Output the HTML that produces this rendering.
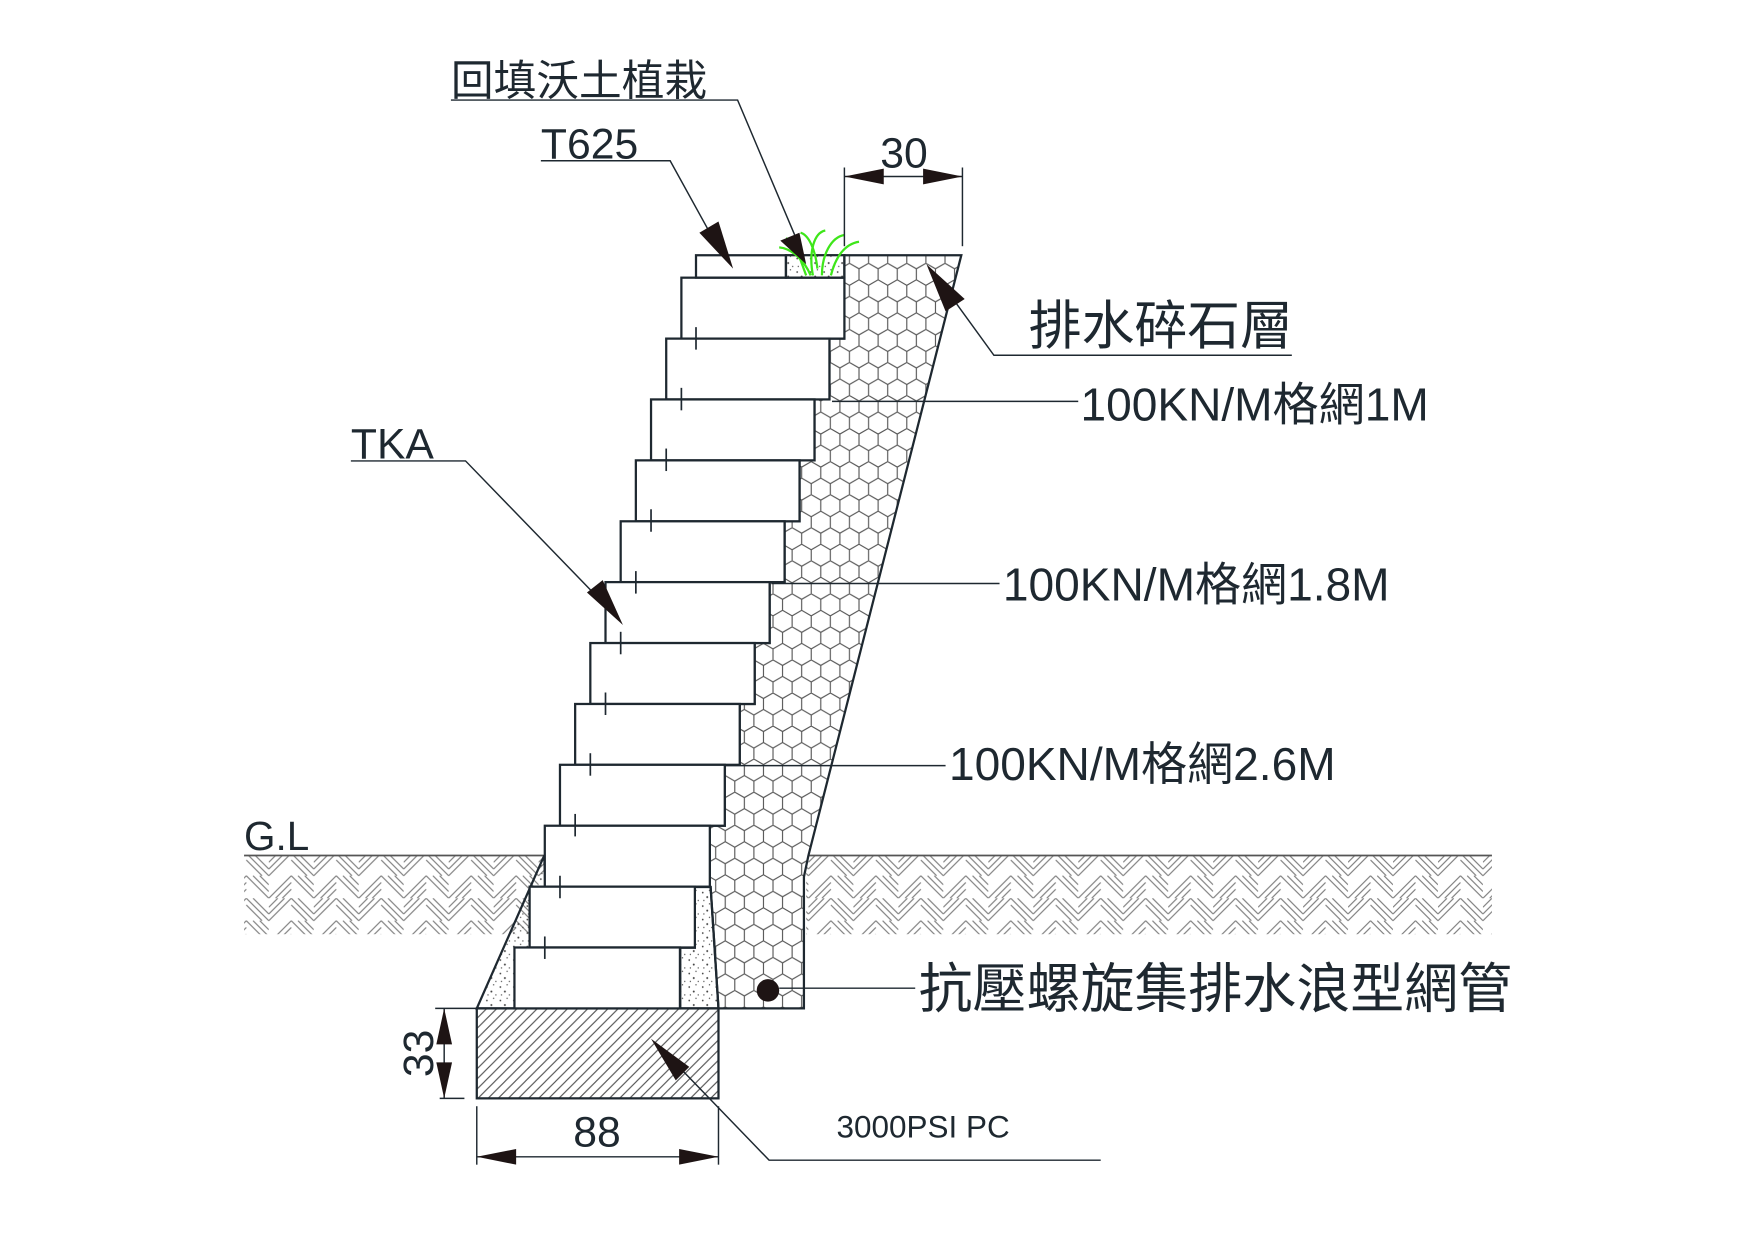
<!DOCTYPE html>
<html><head><meta charset="utf-8"><style>
html,body{margin:0;padding:0;background:#fff}
svg{display:block}
text{font-family:"Liberation Sans","Noto Sans CJK TC",sans-serif;fill:#1e2830}
</style></head><body>
<svg width="1754" height="1240" viewBox="0 0 1560 1103" xmlns="http://www.w3.org/2000/svg">
<defs>
<pattern id="hex" width="17" height="29.4" patternUnits="userSpaceOnUse">
<path d="M0,4.9 L8.5,0 L17,4.9 M8.5,19.6 L0,14.7 V4.9 M17,4.9 V14.7 L8.5,19.6 V29.4" fill="none" stroke="#555" stroke-width="1"/>
</pattern>
<pattern id="ground" width="40" height="40" patternUnits="userSpaceOnUse">
<g stroke="#777" stroke-width="1">
<path d="M0,8 L8,0 M0,14 L14,0 M0,20 L20,0"/>
<path d="M20,20 L40,40 M26,20 L40,34 M32,20 L40,28"/>
<path d="M20,0 L40,20 M26,0 L40,14 M20,6 L34,20"/>
<path d="M0,40 L20,20 M6,40 L20,26 M12,40 L20,32"/>
</g>
</pattern>
<pattern id="diag" width="9" height="9" patternUnits="userSpaceOnUse">
<path d="M0,9 L9,0 M-2,2 L2,-2 M7,11 L11,7" stroke="#555" stroke-width="1"/>
</pattern>
<pattern id="dots" width="12" height="12" patternUnits="userSpaceOnUse">
<circle cx="2" cy="3" r="0.8" fill="#444"/><circle cx="8" cy="1" r="0.6" fill="#444"/>
<circle cx="6" cy="7" r="0.9" fill="#444"/><circle cx="10" cy="10" r="0.6" fill="#444"/>
<circle cx="3" cy="10" r="0.6" fill="#444"/>
</pattern>
</defs>
<g transform="translate(-1,-1)">
<rect x="218" y="762" width="267" height="70" fill="url(#ground)"/>
<rect x="718" y="762" width="610" height="70" fill="url(#ground)"/>
<line x1="218" y1="762" x2="485" y2="762" stroke="#555" stroke-width="1.5"/>
<line x1="720" y1="762" x2="1328" y2="762" stroke="#555" stroke-width="1.5"/>

<polygon points="752,228 856,228 720,762 716,781 716,898 640,898 633,790 632.3,790 632.3,735.5 645.6,735.5 645.6,681.3 658.9,681.3 658.9,627.2 672.2,627.2 672.2,573 685.5,573 685.5,518.8 698.8,518.8 698.8,464.7 712.1,464.7 712.1,410.5 725.4,410.5 725.4,356.3 738.7,356.3 738.7,302.2 752,302.2" fill="url(#hex)" stroke="#1e2830" stroke-width="2"/>

<polygon points="485,762 425,898 459,898 459,844 472,844 472,790 486,790" fill="url(#dots)" stroke="#1e2830" stroke-width="2"/>
<polygon points="619,790 633,790 640,898 606,898 606,844 619,844" fill="url(#dots)" stroke="#1e2830" stroke-width="2"/>

<rect x="425" y="898" width="215" height="80" fill="url(#diag)" stroke="#1e2830" stroke-width="2"/>

<g fill="#fff" stroke="#1e2830" stroke-width="2">
<rect x="607" y="248" width="145" height="54.2"/>
<rect x="593.5" y="302.2" width="145.2" height="54.1"/>
<rect x="580" y="356.3" width="145.4" height="54.2"/>
<rect x="566.5" y="410.5" width="145.6" height="54.2"/>
<rect x="553" y="464.7" width="145.8" height="54.1"/>
<rect x="539.5" y="518.8" width="146" height="54.2"/>
<rect x="526" y="573" width="146.2" height="54.2"/>
<rect x="512.5" y="627.2" width="146.4" height="54.1"/>
<rect x="499" y="681.3" width="146.6" height="54.2"/>
<rect x="485.5" y="735.5" width="146.8" height="54.2"/>
<rect x="472" y="789.7" width="147" height="54.1"/>
<rect x="458.5" y="843.8" width="147.2" height="54.2"/>
<path d="M620,228 H700 V248 H620 Z"/>
</g>
<rect x="700" y="228" width="52" height="20" fill="url(#dots)" stroke="#1e2830" stroke-width="2"/>
<g stroke="#1e2830" stroke-width="1.5">
<line x1="620" y1="292" x2="620" y2="312"/>
<line x1="607" y1="346" x2="607" y2="366"/>
<line x1="593.5" y1="400" x2="593.5" y2="420"/>
<line x1="580" y1="454" x2="580" y2="474"/>
<line x1="566.5" y1="509" x2="566.5" y2="529"/>
<line x1="553" y1="563" x2="553" y2="583"/>
<line x1="539.5" y1="617" x2="539.5" y2="637"/>
<line x1="526" y1="671" x2="526" y2="691"/>
<line x1="512.5" y1="725" x2="512.5" y2="745"/>
<line x1="499" y1="780" x2="499" y2="800"/>
<line x1="485.5" y1="834" x2="485.5" y2="854"/>
</g>

<g stroke="#3ee61a" stroke-width="2" fill="none">
<path d="M718,246 C712,230 708,215 700,213"/>
<path d="M724,246 C720,225 725,208 735,206"/>
<path d="M732,246 C732,228 740,212 752,210"/>
<path d="M740,246 C744,230 752,218 765,216"/>
<path d="M722,246 C716,232 705,222 694,221"/>
<path d="M728,240 C726,222 720,210 713,208"/>
</g>

<circle cx="684" cy="882" r="10" fill="#1e1414"/>

<g stroke="#1e2830" stroke-width="1.3" fill="none">
<polyline points="402,90 657,90 712,220"/>
<polyline points="482,144 597,144 640,222"/>
<polyline points="1150,317 885,317 840,255"/>
<line x1="741" y1="358" x2="960" y2="358"/>
<line x1="687" y1="520" x2="890" y2="520"/>
<line x1="646" y1="682" x2="842" y2="682"/>
<polyline points="313,411 415,411 540,540"/>
<line x1="694" y1="880" x2="815" y2="880"/>
<polyline points="600,945 685,1033 980,1033"/>
<line x1="752" y1="150" x2="752" y2="220"/>
<line x1="857" y1="150" x2="857" y2="220"/>
<line x1="752" y1="158" x2="857" y2="158"/>
<line x1="388" y1="898" x2="425" y2="898"/>
<line x1="392" y1="978" x2="414" y2="978"/>
<line x1="396" y1="898" x2="396" y2="978"/>
<line x1="425" y1="985" x2="425" y2="1037"/>
<line x1="640" y1="985" x2="640" y2="1037"/>
<line x1="425" y1="1030" x2="640" y2="1030"/>
</g>
<g fill="#1e1414">
<polygon points="718,236 695,215 712,208"/>
<polygon points="653,240 623,208 640,198"/>
<polygon points="825,236 859,267 842,278"/>
<polygon points="555,557 523,528 537,517"/>
<polygon points="580,925 614,950 602,962"/>
<polygon points="752,158 787,151 787,165"/>
<polygon points="857,158 822,151 822,165"/>
<polygon points="396,898 389,930 403,930"/>
<polygon points="396,978 389,946 403,946"/>
<polygon points="425,1030 460,1023 460,1037"/>
<polygon points="640,1030 605,1023 605,1037"/>
</g>

<text x="402" y="86" font-size="38">回填沃土植栽</text>
<text x="482" y="142" font-size="38">T625</text>
<text x="805" y="150" font-size="38" text-anchor="middle">30</text>
<text x="916" y="307" font-size="47">排水碎石層</text>
<text x="962" y="375" font-size="41">100KN/M格網1M</text>
<text x="893" y="535" font-size="41">100KN/M格網1.8M</text>
<text x="845" y="695" font-size="41">100KN/M格網2.6M</text>
<text x="313" y="409" font-size="38">TKA</text>
<text x="218" y="757" font-size="36">G.L</text>
<text x="818" y="897" font-size="48">抗壓螺旋集排水浪型網管</text>
<text x="745" y="1013" font-size="28">3000PSI PC</text>
<text x="532" y="1021" font-size="38" text-anchor="middle">88</text>
<text transform="translate(386,938) rotate(-90)" font-size="38" text-anchor="middle">33</text>
</g>
</svg>
</body></html>
